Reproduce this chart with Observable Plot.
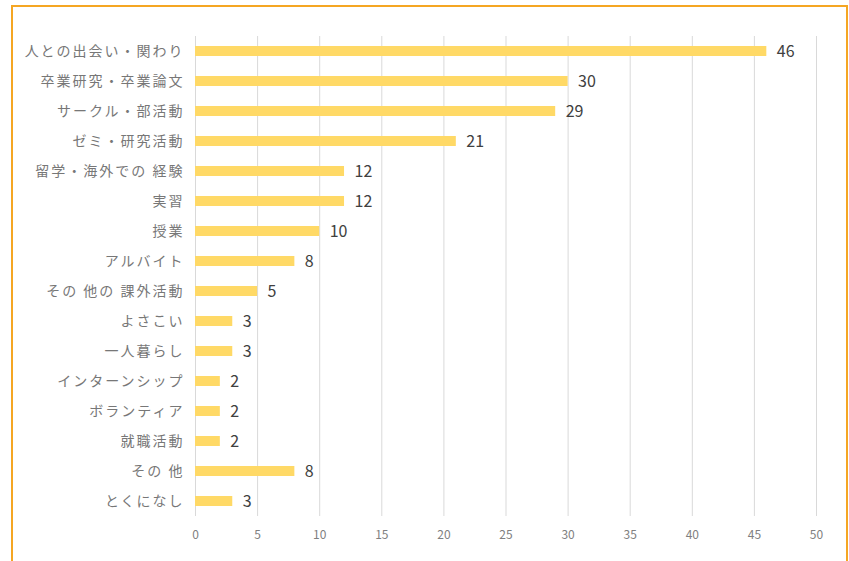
<!DOCTYPE html>
<html>
<head>
<meta charset="utf-8">
<script src="https://cdn.jsdelivr.net/npm/d3@7"></script>
<script src="https://cdn.jsdelivr.net/npm/@observablehq/plot@0.6"></script>
<style>
  html, body { margin: 0; padding: 0; background: #fff; overflow: hidden; }
  #wrap { position: relative; width: 849px; height: 561px; }
  #frame { position: absolute; left: 11px; top: 5px; width: 837px; height: 620px; border: 2px solid #F5A623; box-sizing: border-box; pointer-events: none; }
  #chart { position: absolute; left: 0; top: 0; }
  g[aria-label="y-axis tick label"] text { letter-spacing: 2px; }
</style>
</head>
<body>
<div id="wrap"><div id="chart"></div><div id="frame"></div></div>
<script>
const categories = ["人との出会い・関わり","卒業研究・卒業論文","サークル・部活動","ゼミ・研究活動","留学・海外での 経験","実習","授業","アルバイト","その 他の 課外活動","よさこい","一人暮らし","インターンシップ","ボランティア","就職活動","その 他","とくになし"];
const values = [46,30,29,21,12,12,10,8,5,3,3,2,2,2,8,3];
const xTicks = [0,5,10,15,20,25,30,35,40,45,50];

const data = categories.map((c, i) => ({category: c, value: values[i]}));

const chart = Plot.plot({
  width: 849,
  height: 561,
  marginLeft: 195,
  marginRight: 33,
  marginTop: 36,
  marginBottom: 45,
  style: {fontFamily: "'Noto Sans CJK JP', 'Noto Sans', sans-serif", background: "transparent"},
  x: {domain: [0, 50], ticks: xTicks, label: null},
  y: {domain: categories, label: null, paddingInner: 0.667, paddingOuter: 0.333},
  marks: [
    Plot.ruleX(xTicks, {stroke: "#d9d9d9", strokeWidth: 1}),
    Plot.barX(data, {x: "value", y: "category", fill: "#FFD966"}),
    Plot.text(data, {x: "value", y: "category", text: d => String(d.value), textAnchor: "start", dx: 10, fontSize: 16, fill: "#404040"}),
    Plot.axisX({ticks: xTicks, tickSize: 0, tickPadding: 14, fontSize: 12, color: "#808080", label: null}),
    Plot.axisY({tickSize: 0, tickPadding: 11, fontSize: 14, color: "#777777", label: null})
  ]
});
document.getElementById("chart").appendChild(chart);
</script>
</body>
</html>
